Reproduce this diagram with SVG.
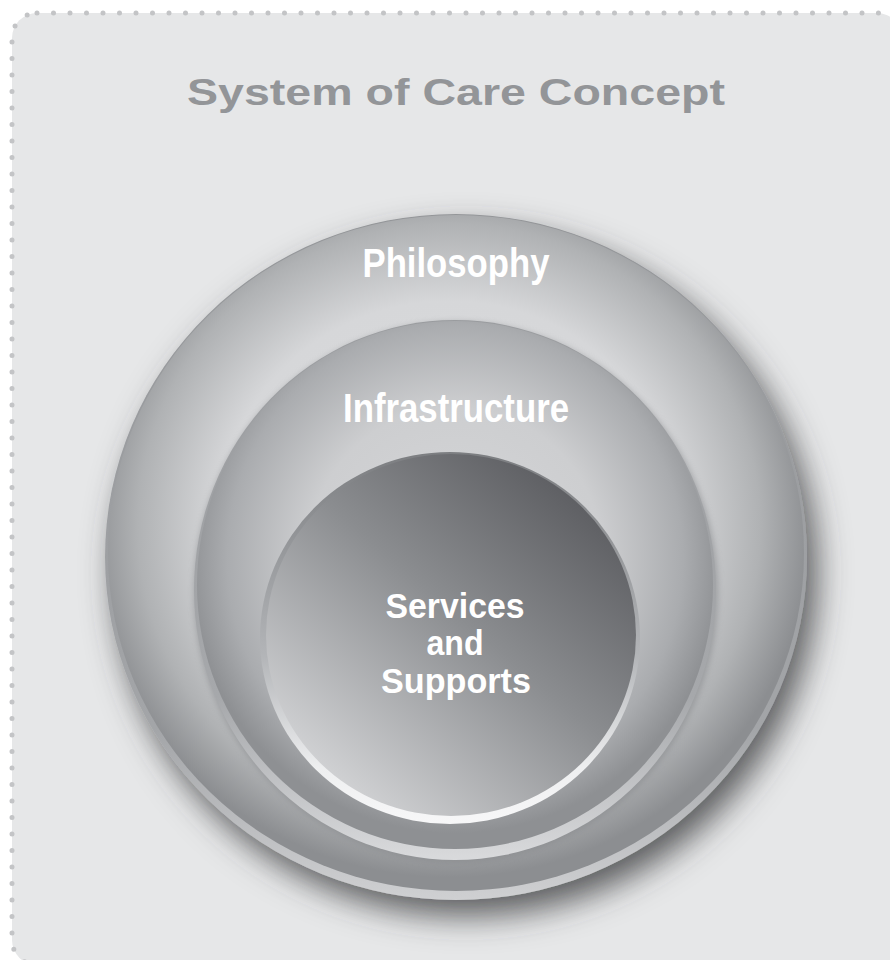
<svg xmlns="http://www.w3.org/2000/svg" width="890" height="960" viewBox="0 0 890 960">
  <style>
    .lbl { font-family: "Liberation Sans", Arial, sans-serif; font-weight: bold; fill: #ffffff; text-anchor: middle; }
    .title { font-family: "Liberation Sans", Arial, sans-serif; font-weight: bold; fill: #939598; text-anchor: middle; }
  </style>
  <defs>
    <filter id="shadow" x="-20%" y="-20%" width="140%" height="140%">
      <feGaussianBlur in="SourceAlpha" stdDeviation="16"/>
      <feOffset dx="10" dy="16" result="b"/>
      <feFlood flood-color="#3a3b3d" flood-opacity="0.8"/>
      <feComposite in2="b" operator="in"/>
      <feMerge><feMergeNode/><feMergeNode in="SourceGraphic"/></feMerge>
    </filter>
    <filter id="soft" x="-10%" y="-10%" width="120%" height="120%">
      <feGaussianBlur stdDeviation="3"/>
    </filter>
    <radialGradient id="gOuter" cx="0.49" cy="0.46" r="0.52">
      <stop offset="0" stop-color="#dcdddf"/>
      <stop offset="0.64" stop-color="#d6d7d9"/>
      <stop offset="0.86" stop-color="#b0b2b4"/>
      <stop offset="1" stop-color="#8c8e91"/>
    </radialGradient>
    <radialGradient id="gMid" cx="0.5" cy="0.45" r="0.52">
      <stop offset="0" stop-color="#d6d7d9"/>
      <stop offset="0.55" stop-color="#cdced0"/>
      <stop offset="0.85" stop-color="#aaacaf"/>
      <stop offset="1" stop-color="#8e9093"/>
    </radialGradient>
    <linearGradient id="gRimMid" x1="0" y1="0" x2="0" y2="1">
      <stop offset="0" stop-color="#9a9c9f"/>
      <stop offset="0.7" stop-color="#a6a8ab"/>
      <stop offset="1" stop-color="#d9dadc"/>
    </linearGradient>
    <linearGradient id="gRimOuter" x1="0" y1="0" x2="0" y2="1">
      <stop offset="0" stop-color="#949699"/>
      <stop offset="0.75" stop-color="#a3a5a8"/>
      <stop offset="1" stop-color="#cfd0d2"/>
    </linearGradient>
    <linearGradient id="gInner" x1="0.85" y1="0.1" x2="0.15" y2="0.9">
      <stop offset="0" stop-color="#5c5d61"/>
      <stop offset="0.45" stop-color="#8b8d90"/>
      <stop offset="1" stop-color="#d3d4d6"/>
    </linearGradient>
    <linearGradient id="gRimInner" x1="0" y1="0" x2="0" y2="1">
      <stop offset="0" stop-color="#7c7e81"/>
      <stop offset="0.55" stop-color="#b3b5b8"/>
      <stop offset="0.85" stop-color="#eeeff0"/>
      <stop offset="1" stop-color="#f7f7f8"/>
    </linearGradient>
  </defs>

  <!-- panel -->
  <g id="panel">
    <rect x="12" y="13" width="890" height="952" rx="25" fill="#e6e7e8"/>
    <rect x="12" y="13" width="890" height="952" rx="25" fill="none" stroke="#c3c4c6" stroke-width="5" stroke-linecap="round" stroke-dasharray="0 16.5"/>
    <text class="title" x="456" y="105" font-size="37" textLength="538" lengthAdjust="spacingAndGlyphs">System of Care Concept</text>
  </g>

  <!-- outer: Philosophy -->
  <g id="philosophy">
    <ellipse cx="456" cy="557" rx="351" ry="343" fill="url(#gRimOuter)" filter="url(#shadow)"/>
    <ellipse cx="456" cy="553" rx="348" ry="338" fill="url(#gOuter)"/>
    <text class="lbl" x="456" y="277" font-size="40" textLength="187" lengthAdjust="spacingAndGlyphs">Philosophy</text>
  </g>

  <!-- middle: Infrastructure -->
  <g id="infrastructure">
    <ellipse cx="456" cy="592" rx="262" ry="270" fill="#86888b" opacity="0.6" filter="url(#soft)"/>
    <ellipse cx="455" cy="590" rx="261" ry="270" fill="url(#gRimMid)"/>
    <ellipse cx="455" cy="585" rx="258" ry="264" fill="url(#gMid)"/>
    <text class="lbl" x="456" y="422" font-size="40" textLength="226" lengthAdjust="spacingAndGlyphs">Infrastructure</text>
  </g>

  <!-- inner: Services and Supports -->
  <g id="services">
    <ellipse cx="450" cy="638" rx="190" ry="186" fill="url(#gRimInner)"/>
    <ellipse cx="451" cy="635" rx="185" ry="181" fill="url(#gInner)"/>
    <text class="lbl" x="455" y="618" font-size="35" textLength="139" lengthAdjust="spacingAndGlyphs">Services</text>
    <text class="lbl" x="455" y="655" font-size="35" textLength="57" lengthAdjust="spacingAndGlyphs">and</text>
    <text class="lbl" x="456" y="693" font-size="35" textLength="150" lengthAdjust="spacingAndGlyphs">Supports</text>
  </g>
</svg>
